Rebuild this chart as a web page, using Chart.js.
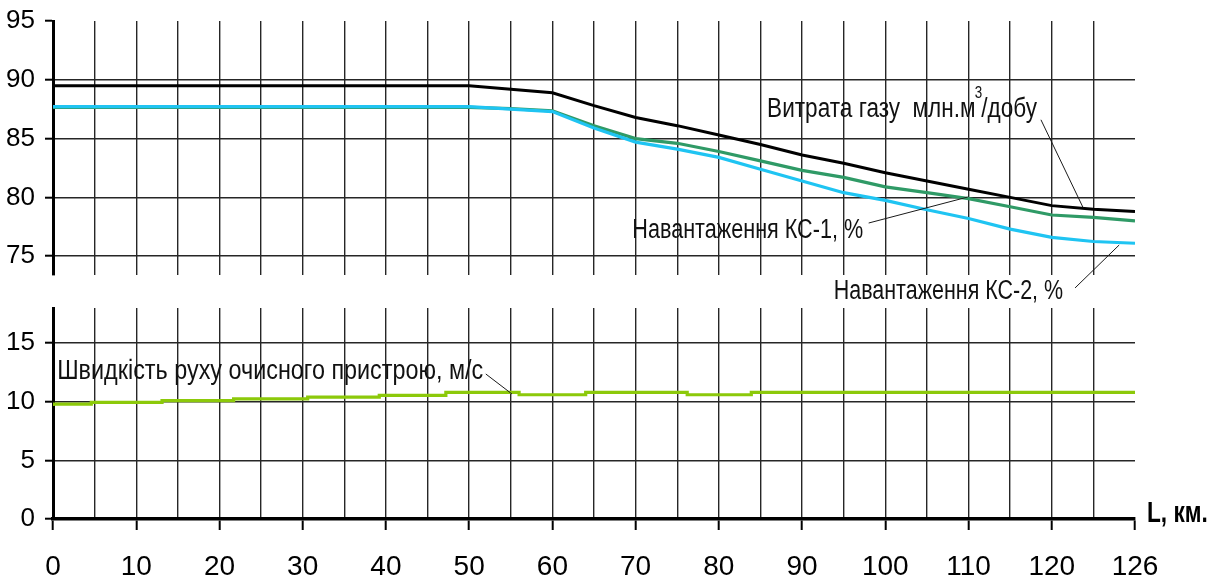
<!DOCTYPE html>
<html><head><meta charset="utf-8">
<script src="https://cdn.jsdelivr.net/npm/chart.js@4/dist/chart.umd.min.js"></script>
<style>
html,body{margin:0;padding:0;background:#fff;}
#wrap{position:relative;width:1216px;height:580px;overflow:hidden;background:#fff;}
#cBot{position:absolute;left:0;top:290px;}
#cTop{position:absolute;left:0;top:0;}
</style></head><body>
<div id="wrap"><canvas id="cBot" width="1216" height="290"></canvas><canvas id="cTop" width="1216" height="310"></canvas></div>
<script>
// ---------- DATA ----------
const kmTop   = [0,5,10,15,20,25,30,35,40,45,50,55,60,65,70,75,80,85,90,95,100,105,110,115,120,125,126];
const gasFlow = [89.5,89.5,89.5,89.5,89.5,89.5,89.5,89.5,89.5,89.5,89.5,89.2,88.9,87.8,86.8,86.1,85.3,84.5,83.6,82.9,82.1,81.4,80.7,80.0,79.3,79.0,78.8];
const loadKC1 = [87.65,87.65,87.65,87.65,87.65,87.65,87.65,87.65,87.65,87.65,87.65,87.55,87.35,86.1,85.0,84.6,83.9,83.1,82.3,81.7,80.9,80.4,79.9,79.2,78.5,78.3,78.0];
const loadKC2 = [87.72,87.72,87.72,87.72,87.72,87.72,87.72,87.72,87.72,87.72,87.72,87.5,87.3,85.9,84.7,84.1,83.4,82.4,81.4,80.4,79.75,78.95,78.2,77.3,76.6,76.25,76.1];
const speedKm  = [0,4.6,13.1,21.7,30.6,39.2,47.2,56,64,76.2,83.9,125.2,126];
const speedVal = [9.65,9.8,9.95,10.1,10.25,10.4,10.55,10.8,10.6,10.8,10.6,10.8,10.8];
const xGridKm  = [0,5,10,15,20,25,30,35,40,45,50,55,60,65,70,75,80,85,90,95,100,105,110,115,120,125,126];
const xLabelKm = [0,10,20,30,40,50,60,70,80,90,100,110,120,126];
const yTicksTop = [75,80,85,90,95];
const yTicksBottom = [0,5,10,15];

// ---------- SCALE: last interval (125..126) drawn as wide as a 5 km step ----------
const X_BREAK = 125, X_STRETCH = 5;
class KmScale extends Chart.LinearScale {
  _u(v){ return v <= X_BREAK ? v : X_BREAK + (v - X_BREAK) * X_STRETCH; }
  getPixelForValue(v){
    if (v === null || v === undefined || isNaN(v)) return NaN;
    const a = this._u(this.min), b = this._u(this.max);
    return this.getPixelForDecimal((this._u(v) - a) / (b - a));
  }
  getValueForPixel(p){
    const a = this._u(this.min), b = this._u(this.max);
    const u = a + this.getDecimalForPixel(p) * (b - a);
    return u <= X_BREAK ? u : X_BREAK + (u - X_BREAK) / X_STRETCH;
  }
}
KmScale.id = 'km';
KmScale.defaults = Chart.LinearScale.defaults;
Chart.register(KmScale);

// ---------- STYLE ----------
const FONT = "'Liberation Sans Narrow','Arial Narrow','Liberation Sans',Arial,sans-serif";
const GRID = '#262626';
const CLEAR = 'rgba(0,0,0,0)';

function makeAnnot(items, axisTitle){
  return {
    id: 'annot',
    afterDraw(chart){
      const ctx = chart.ctx, xs = chart.scales.x, ys = chart.scales.y;
      ctx.save();
      items.forEach(a => {
        ctx.strokeStyle = '#1a1a1a'; ctx.lineWidth = 1;
        ctx.beginPath();
        ctx.moveTo(xs.getPixelForValue(a.from[0]), ys.getPixelForValue(a.from[1]));
        ctx.lineTo(xs.getPixelForValue(a.to[0]), ys.getPixelForValue(a.to[1]));
        ctx.stroke();
        ctx.save();
        ctx.translate(xs.getPixelForValue(a.at[0]), ys.getPixelForValue(a.at[1]));
        ctx.scale(a.sx, 1);
        ctx.fillStyle = '#111'; ctx.textAlign = 'left'; ctx.textBaseline = 'alphabetic';
        let x = 0;
        a.parts.forEach(p => {
          if (p.sup) {
            ctx.font = "16px " + FONT;
            ctx.fillText(p.t, x - 1, -19);
            x += ctx.measureText(p.t).width - 2;
          } else {
            ctx.font = "27px " + FONT;
            ctx.fillText(p.t, x, 0);
            x += ctx.measureText(p.t).width;
          }
        });
        ctx.restore();
      });
      if (axisTitle) {
        ctx.save();
        ctx.translate(chart.chartArea.right + 12, chart.chartArea.bottom + 3);
        ctx.scale(0.78, 1);
        ctx.font = "bold 29px " + FONT; ctx.fillStyle = '#000';
        ctx.textAlign = 'left'; ctx.textBaseline = 'alphabetic';
        ctx.fillText(axisTitle, 0, 0);
        ctx.restore();
      }
      ctx.restore();
    }
  };
}

const topNotes = [
  { parts:[{t:'Витрата газу  млн.м'},{t:'3',sup:true},{t:'/добу'}], at:[85.8,86.84], from:[118.7,86.6], to:[123.75,79.15], sx:0.836 },
  { parts:[{t:'Навантаження КС-1, %'}], at:[69.6,76.55], from:[98.0,77.82], to:[109.9,80.03], sx:0.80 },
  { parts:[{t:'Навантаження КС-2, %'}], at:[93.8,71.36], from:[122.8,72.3], to:[125.62,75.95], sx:0.795 }
];
const botNotes = [
  { parts:[{t:'Швидкість руху очисного пристрою, м/с'}], at:[0.5,11.94], from:[52.0,12.37], to:[55.15,10.66], sx:0.866 }
];

function xAxis(showLabels){
  return {
    type: 'km', min: 0, max: 126, bounds: 'data',
    afterBuildTicks: s => { s.ticks = xGridKm.map(v => ({value: v})); },
    afterFit: s => { if (showLabels) s.height = 61; s.paddingLeft = 0; s.paddingRight = 0; },
    grid: {
      color: c => (c.tick && c.tick.value === 126) ? CLEAR : GRID,
      lineWidth: 1.4,
      drawTicks: showLabels,
      tickLength: 11,
      tickWidth: 2,
      tickColor: c => (c.tick && xLabelKm.includes(c.tick.value)) ? '#000' : CLEAR
    },
    border: { display: showLabels, color: '#000', width: 3.5 },
    ticks: {
      display: showLabels, autoSkip: false, maxRotation: 0, padding: 20,
      color: '#000', font: { family: FONT, size: 28 },
      callback: v => xLabelKm.includes(v) ? String(v) : ''
    }
  };
}
function yAxis(min, max, ticksArr, hideVal){
  return {
    min: min, max: max,
    afterBuildTicks: s => { s.ticks = ticksArr.map(v => ({value: v})); },
    afterFit: s => { s.width = 53; s.paddingTop = 0; s.paddingBottom = 0; },
    grid: {
      color: c => (c.tick && c.tick.value === hideVal) ? CLEAR : GRID,
      lineWidth: 1.4, tickLength: 8, tickWidth: 2, tickColor: '#000'
    },
    border: { display: true, color: '#000', width: 3 },
    ticks: { color: '#000', padding: 10, font: { family: FONT, size: 26 } }
  };
}
const pts = (xs, ys) => xs.map((x, i) => ({x: x, y: ys[i]}));

new Chart(document.getElementById('cTop'), {
  type: 'line',
  data: { datasets: [
    { data: pts(kmTop, loadKC2), borderColor: '#1fc4f2', borderWidth: 3.2, pointRadius: 0 },
    { data: pts(kmTop, loadKC1), borderColor: '#2f9a66', borderWidth: 3.2, pointRadius: 0 },
    { data: pts(kmTop, gasFlow), borderColor: '#000000', borderWidth: 3, pointRadius: 0 }
  ]},
  options: {
    responsive: false, animation: false, events: [],
    layout: { padding: { left: 0, right: 81, top: 21, bottom: 35 } },
    plugins: { legend: { display: false }, tooltip: { enabled: false } },
    scales: { x: xAxis(false), y: yAxis(73.4, 95, yTicksTop, 95) }
  },
  plugins: [makeAnnot(topNotes, null)]
});

new Chart(document.getElementById('cBot'), {
  type: 'line',
  data: { datasets: [
    { data: pts(speedKm, speedVal), borderColor: '#8cc90a', borderWidth: 3.2, pointRadius: 0, stepped: 'after' }
  ]},
  options: {
    responsive: false, animation: false, events: [],
    layout: { padding: { left: 0, right: 81, top: 18, bottom: 0 } },
    plugins: { legend: { display: false }, tooltip: { enabled: false } },
    scales: { x: xAxis(true), y: yAxis(0, 18, yTicksBottom, null) }
  },
  plugins: [makeAnnot(botNotes, 'L, км.')]
});
</script>
</body></html>
